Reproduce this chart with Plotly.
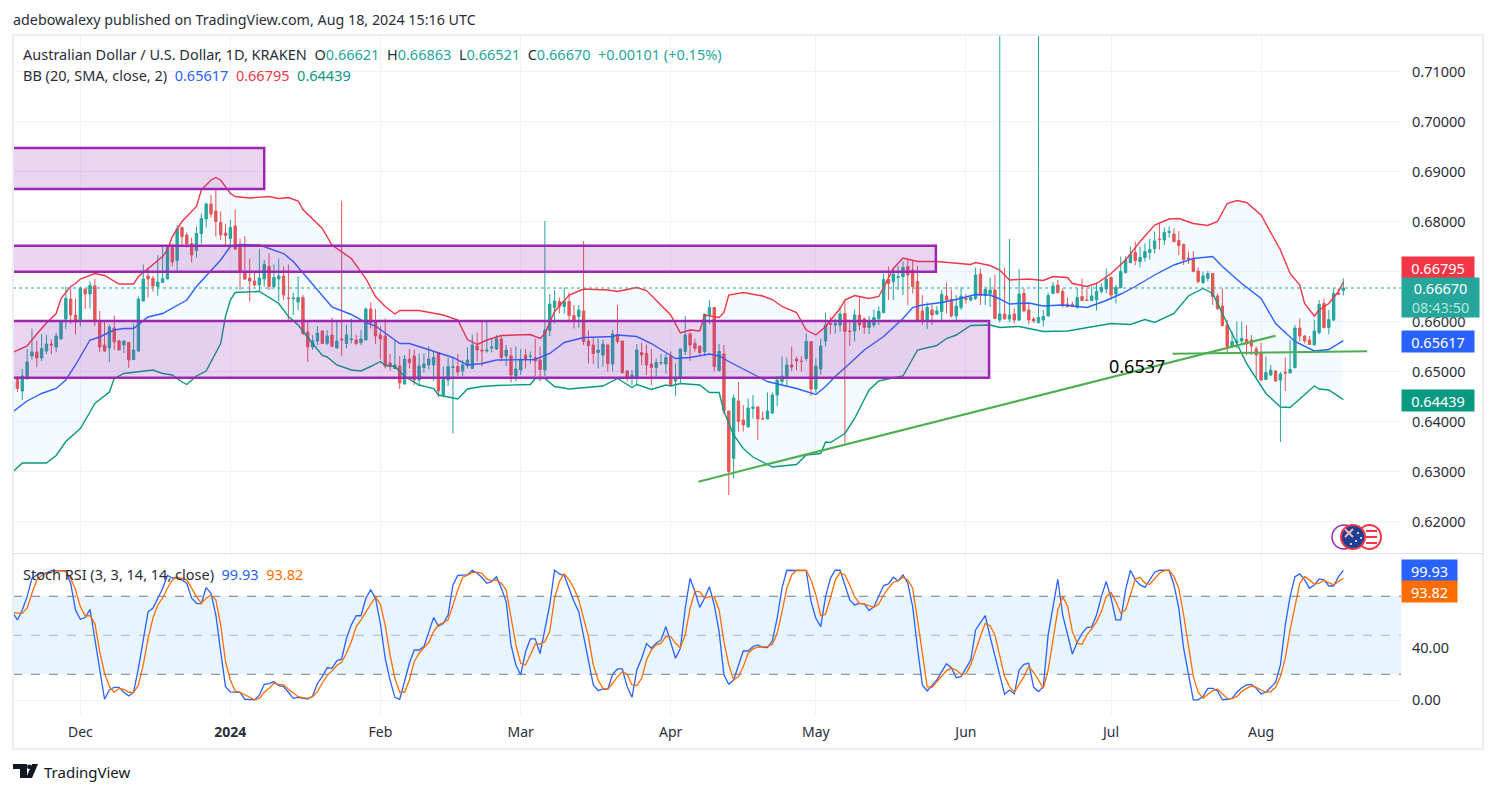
import pandas as pd
import plotly.graph_objects as go
from plotly.subplots import make_subplots

# Tageskerzen AUD/USD (O, H, L, C in 1/10000)
kerzen = [
    (6462, 6483, 6456, 6480), (6488, 6491, 6459, 6466), (6461, 6505, 6443, 6491), (6488, 6545, 6483, 6519),
    (6531, 6586, 6524, 6539), (6539, 6561, 6509, 6527), (6527, 6575, 6521, 6546), (6541, 6573, 6535, 6555),
    (6555, 6564, 6535, 6553), (6549, 6577, 6539, 6571), (6565, 6601, 6564, 6601), (6605, 6670, 6585, 6646),
    (6645, 6666, 6595, 6613), (6613, 6646, 6575, 6599), (6601, 6670, 6590, 6666), (6665, 6665, 6625, 6655),
    (6655, 6680, 6626, 6672), (6671, 6685, 6591, 6601), (6599, 6621, 6539, 6549), (6553, 6599, 6539, 6541),
    (6547, 6594, 6519, 6589), (6587, 6612, 6543, 6559), (6561, 6564, 6543, 6543), (6553, 6563, 6537, 6561),
    (6558, 6558, 6507, 6523), (6524, 6596, 6523, 6543), (6541, 6650, 6539, 6645), (6641, 6714, 6641, 6685),
    (6691, 6706, 6648, 6685), (6686, 6691, 6660, 6671), (6670, 6733, 6651, 6679), (6678, 6751, 6678, 6686),
    (6685, 6751, 6685, 6748), (6748, 6756, 6710, 6719), (6722, 6793, 6700, 6785), (6788, 6790, 6753, 6770),
    (6773, 6778, 6748, 6755), (6756, 6768, 6718, 6733), (6742, 6790, 6728, 6776), (6776, 6816, 6756, 6806),
    (6805, 6838, 6788, 6835), (6835, 6853, 6808, 6815), (6821, 6863, 6770, 6800), (6798, 6820, 6763, 6773),
    (6777, 6796, 6753, 6772), (6766, 6803, 6750, 6788), (6791, 6824, 6743, 6745), (6748, 6766, 6663, 6699),
    (6699, 6771, 6683, 6685), (6687, 6726, 6640, 6681), (6681, 6701, 6670, 6673), (6673, 6745, 6660, 6687),
    (6685, 6723, 6670, 6714), (6710, 6736, 6663, 6670), (6670, 6714, 6666, 6688), (6685, 6726, 6640, 6691),
    (6691, 6710, 6643, 6653), (6647, 6714, 6603, 6646), (6646, 6658, 6613, 6647), (6639, 6690, 6623, 6648),
    (6648, 6653, 6573, 6576), (6579, 6603, 6519, 6549), (6549, 6573, 6543, 6561), (6561, 6591, 6553, 6577),
    (6581, 6583, 6555, 6556), (6556, 6583, 6553, 6571), (6573, 6608, 6548, 6551), (6547, 6599, 6546, 6561),
    (6565, 6841, 6531, 6563), (6556, 6594, 6546, 6573), (6564, 6606, 6556, 6565), (6563, 6573, 6553, 6556),
    (6558, 6583, 6553, 6565), (6563, 6628, 6563, 6625), (6625, 6638, 6586, 6598), (6598, 6625, 6555, 6571),
    (6573, 6591, 6524, 6565), (6571, 6606, 6506, 6511), (6517, 6535, 6501, 6511), (6506, 6563, 6506, 6513),
    (6511, 6531, 6465, 6477), (6475, 6533, 6474, 6525), (6525, 6545, 6506, 6518), (6531, 6544, 6473, 6483),
    (6483, 6536, 6473, 6511), (6508, 6536, 6498, 6515), (6513, 6550, 6504, 6525), (6513, 6541, 6481, 6528),
    (6538, 6538, 6449, 6461), (6453, 6510, 6448, 6484), (6483, 6528, 6471, 6510), (6508, 6528, 6376, 6509),
    (6510, 6535, 6491, 6499), (6501, 6523, 6491, 6513), (6511, 6548, 6506, 6523), (6506, 6574, 6506, 6553),
    (6551, 6578, 6520, 6543), (6543, 6600, 6510, 6541), (6541, 6601, 6538, 6543), (6547, 6566, 6538, 6549),
    (6545, 6573, 6543, 6566), (6565, 6573, 6520, 6528), (6531, 6553, 6511, 6543), (6531, 6548, 6478, 6493),
    (6491, 6550, 6480, 6505), (6503, 6545, 6493, 6525), (6533, 6545, 6506, 6526), (6530, 6540, 6516, 6531),
    (6528, 6566, 6491, 6521), (6523, 6550, 6480, 6504), (6503, 6801, 6491, 6583), (6582, 6655, 6571, 6635),
    (6628, 6663, 6596, 6641), (6640, 6648, 6616, 6630), (6630, 6668, 6616, 6640), (6640, 6658, 6598, 6612),
    (6612, 6633, 6586, 6600), (6610, 6633, 6588, 6623), (6621, 6761, 6553, 6560), (6561, 6582, 6516, 6552),
    (6553, 6568, 6515, 6536), (6538, 6566, 6506, 6543), (6533, 6564, 6510, 6555), (6553, 6556, 6500, 6516),
    (6515, 6583, 6500, 6575), (6574, 6633, 6556, 6560), (6561, 6561, 6495, 6498), (6501, 6503, 6480, 6488),
    (6488, 6503, 6473, 6493), (6486, 6555, 6473, 6543), (6538, 6558, 6513, 6533), (6536, 6554, 6493, 6513),
    (6515, 6545, 6473, 6508), (6508, 6526, 6490, 6518), (6517, 6535, 6513, 6518), (6515, 6535, 6496, 6528),
    (6530, 6540, 6472, 6474), (6481, 6516, 6451, 6487), (6486, 6546, 6475, 6545), (6540, 6611, 6533, 6573),
    (6575, 6580, 6521, 6553), (6556, 6566, 6540, 6546), (6550, 6553, 6533, 6538), (6540, 6615, 6531, 6615),
    (6613, 6643, 6595, 6628), (6628, 6628, 6500, 6510), (6502, 6555, 6500, 6540), (6535, 6553, 6415, 6421),
    (6421, 6421, 6253, 6300), (6326, 6454, 6286, 6447), (6441, 6479, 6380, 6400), (6403, 6433, 6380, 6393),
    (6389, 6446, 6389, 6427), (6426, 6453, 6406, 6429), (6429, 6431, 6363, 6405), (6406, 6420, 6405, 6405),
    (6405, 6458, 6405, 6421), (6417, 6458, 6416, 6453), (6453, 6491, 6431, 6483), (6480, 6530, 6473, 6491),
    (6488, 6528, 6471, 6513), (6513, 6550, 6501, 6509), (6525, 6530, 6503, 6521), (6521, 6530, 6500, 6520),
    (6526, 6576, 6521, 6560), (6560, 6560, 6451, 6465), (6465, 6526, 6458, 6511), (6505, 6566, 6493, 6551),
    (6561, 6618, 6550, 6593), (6596, 6610, 6575, 6594), (6593, 6606, 6576, 6596), (6593, 6631, 6580, 6615),
    (6616, 6644, 6356, 6580), (6581, 6603, 6551, 6580), (6581, 6624, 6560, 6613), (6613, 6650, 6583, 6593),
    (6605, 6608, 6576, 6588), (6588, 6611, 6575, 6601), (6593, 6624, 6588, 6608), (6606, 6630, 6593, 6620),
    (6618, 6696, 6616, 6684), (6684, 6710, 6643, 6676), (6680, 6706, 6643, 6695), (6688, 6711, 6663, 6690),
    (6690, 6720, 6653, 6708), (6710, 6723, 6633, 6693), (6703, 6721, 6656, 6670), (6680, 6711, 6600, 6601),
    (6621, 6653, 6593, 6600), (6600, 6638, 6585, 6628), (6623, 6633, 6593, 6613), (6615, 6631, 6613, 6621),
    (6620, 6663, 6600, 6654), (6651, 6678, 6616, 6643), (6644, 6664, 6608, 6611), (6611, 6653, 6600, 6631),
    (6628, 6668, 6623, 6651), (6646, 6655, 6636, 6644), (6643, 6653, 6640, 6648), (6646, 6708, 6643, 6693),
    (6695, 6706, 6633, 6652), (6652, 6670, 6633, 6664), (6656, 6688, 6629, 6663), (6663, 6694, 6605, 6606),
    (6603, 7200, 6598, 6615), (6615, 6708, 6605, 6605), (6605, 6765, 6599, 6613), (6615, 6627, 6596, 6603),
    (6603, 6705, 6601, 6655), (6656, 6666, 6618, 6621), (6623, 6635, 6595, 6603), (6605, 6609, 6597, 6601),
    (6598, 7200, 6596, 6608), (6603, 6623, 6590, 6610), (6611, 6658, 6610, 6652), (6656, 6679, 6655, 6671),
    (6673, 6683, 6656, 6658), (6660, 6666, 6628, 6633), (6635, 6648, 6628, 6630), (6634, 6640, 6630, 6630),
    (6628, 6666, 6626, 6648), (6650, 6686, 6641, 6642), (6643, 6666, 6642, 6642), (6642, 6670, 6641, 6651),
    (6643, 6678, 6622, 6660), (6660, 6676, 6656, 6668), (6665, 6706, 6656, 6685), (6688, 6690, 6643, 6653),
    (6655, 6673, 6636, 6668), (6668, 6730, 6666, 6700), (6698, 6730, 6696, 6723), (6718, 6750, 6716, 6734),
    (6738, 6760, 6713, 6722), (6720, 6750, 6708, 6728), (6728, 6756, 6720, 6740), (6738, 6765, 6723, 6744),
    (6746, 6780, 6736, 6761), (6765, 6796, 6744, 6764), (6763, 6788, 6753, 6778), (6778, 6790, 6768, 6780),
    (6775, 6786, 6758, 6760), (6762, 6781, 6733, 6752), (6754, 6756, 6713, 6724), (6727, 6740, 6715, 6725),
    (6726, 6741, 6698, 6700), (6701, 6708, 6676, 6680), (6678, 6700, 6675, 6691), (6686, 6701, 6680, 6696),
    (6696, 6696, 6633, 6650), (6651, 6656, 6623, 6626), (6631, 6666, 6590, 6592), (6593, 6603, 6536, 6550),
    (6550, 6580, 6548, 6560), (6558, 6600, 6546, 6561), (6561, 6600, 6556, 6566), (6564, 6593, 6533, 6555),
    (6563, 6573, 6533, 6551), (6545, 6550, 6486, 6533), (6536, 6558, 6481, 6483), (6484, 6530, 6483, 6498),
    (6493, 6513, 6491, 6503), (6501, 6503, 6480, 6481), (6483, 6499, 6359, 6495), (6499, 6528, 6461, 6497),
    (6497, 6563, 6497, 6504), (6508, 6593, 6506, 6587), (6587, 6606, 6560, 6571), (6571, 6573, 6556, 6561),
    (6563, 6571, 6553, 6554), (6553, 6604, 6553, 6581), (6578, 6643, 6574, 6634), (6636, 6646, 6586, 6588),
    (6588, 6623, 6574, 6604), (6603, 6666, 6601, 6656), (6657, 6666, 6653, 6655), (6662.1, 6686.3, 6652.1, 6667.0),
]
df = pd.DataFrame(kerzen, columns=['open', 'high', 'low', 'close']) / 10000
df['datum'] = pd.date_range(start='2023-11-17', periods=len(df), freq='D')

# Bollinger-Bänder (Kerzennummer, Wert in 1/10000)
bb_oben = [
    (0, 6538), (3, 6551), (5, 6575), (7, 6597), (9, 6616), (10, 6646), (12, 6670), (13, 6676), (14, 6685), (16, 6693),
    (17, 6696), (19, 6692), (21, 6681), (22, 6675), (25, 6675), (26, 6690), (28, 6706), (31, 6730), (32, 6743),
    (33, 6770), (35, 6800), (38, 6830), (39, 6863), (41, 6883), (42, 6888), (43, 6883), (45, 6856), (46, 6850),
    (49, 6847), (53, 6850), (55, 6846), (57, 6848), (59, 6841), (60, 6824), (64, 6786), (66, 6753), (70, 6726),
    (72, 6700), (73, 6686), (75, 6650), (77, 6630), (79, 6615), (80, 6622), (84, 6622), (87, 6616), (89, 6613),
    (92, 6603), (94, 6564), (96, 6554), (98, 6563), (101, 6572), (107, 6574), (109, 6566), (110, 6576), (112, 6620),
    (115, 6653), (118, 6665), (123, 6663), (125, 6660), (129, 6668), (131, 6662), (133, 6643), (136, 6613), (138, 6577),
    (139, 6580), (140, 6583), (142, 6581), (143, 6613), (146, 6608), (147, 6618), (148, 6653), (151, 6658), (155, 6651),
    (157, 6644), (159, 6630), (162, 6618), (164, 6583), (166, 6573), (168, 6590), (171, 6626), (172, 6643), (174, 6652),
    (177, 6646), (179, 6650), (180, 6668), (182, 6706), (184, 6727), (187, 6720), (191, 6720), (198, 6714), (199, 6718),
    (202, 6712), (204, 6703), (206, 6683), (210, 6685), (213, 6682), (215, 6690), (218, 6688), (219, 6676), (222, 6670),
    (224, 6676), (227, 6696), (230, 6723), (233, 6760), (236, 6793), (239, 6805), (241, 6806), (244, 6796), (247, 6792),
    (249, 6800), (251, 6836), (253, 6842), (255, 6838), (258, 6813), (262, 6743), (264, 6696), (266, 6673), (267, 6636),
    (269, 6611), (270, 6623), (272, 6636), (274, 6660), (275, 6679.5),
]
bb_mitte = [
    (0, 6419), (3, 6441), (6, 6456), (9, 6466), (11, 6483), (13, 6513), (16, 6563), (18, 6569), (21, 6583), (23, 6586),
    (25, 6586), (28, 6609), (31, 6616), (36, 6643), (38, 6670), (41, 6703), (43, 6723), (45, 6750), (47, 6754),
    (51, 6753), (56, 6736), (58, 6720), (61, 6686), (64, 6653), (66, 6629), (70, 6614), (73, 6598), (75, 6591),
    (80, 6556), (82, 6556), (84, 6550), (87, 6540), (91, 6528), (94, 6513), (97, 6516), (100, 6523), (108, 6524),
    (111, 6536), (114, 6558), (118, 6568), (124, 6570), (125, 6573), (129, 6570), (132, 6556), (136, 6533), (137, 6526),
    (140, 6528), (144, 6535), (146, 6531), (148, 6520), (154, 6490), (156, 6480), (162, 6466), (166, 6454), (168, 6470),
    (170, 6490), (173, 6516), (176, 6543), (180, 6570), (184, 6606), (186, 6628), (188, 6633), (192, 6638), (195, 6644),
    (199, 6654), (202, 6653), (204, 6645), (206, 6635), (210, 6637), (213, 6631), (217, 6633), (222, 6628), (226, 6642),
    (229, 6655), (232, 6670), (236, 6693), (240, 6713), (244, 6726), (248, 6730), (250, 6710), (254, 6676), (258, 6646),
    (261, 6596), (265, 6560), (269, 6541), (272, 6544), (275, 6561.7),
]
bb_unten = [
    (0, 6299), (2, 6317), (7, 6317), (9, 6332), (11, 6360), (13, 6378), (14, 6386), (16, 6419), (17, 6436), (20, 6459),
    (21, 6486), (23, 6496), (26, 6499), (29, 6503), (31, 6496), (33, 6493), (35, 6479), (36, 6474), (38, 6491),
    (40, 6501), (43, 6556), (44, 6610), (45, 6643), (46, 6658), (51, 6660), (54, 6641), (55, 6636), (57, 6610),
    (59, 6593), (62, 6556), (64, 6532), (65, 6529), (67, 6513), (70, 6503), (72, 6501), (74, 6510), (76, 6520),
    (77, 6512), (79, 6510), (81, 6490), (84, 6473), (87, 6466), (88, 6453), (92, 6445), (94, 6465), (97, 6470),
    (100, 6472), (107, 6474), (108, 6486), (110, 6486), (112, 6470), (115, 6465), (119, 6468), (122, 6471), (125, 6486),
    (128, 6468), (129, 6474), (132, 6464), (135, 6473), (136, 6471), (138, 6476), (140, 6474), (142, 6473), (144, 6458),
    (146, 6458), (147, 6420), (149, 6373), (151, 6346), (153, 6329), (156, 6314), (157, 6309), (162, 6314), (164, 6333),
    (167, 6336), (168, 6359), (169, 6358), (172, 6376), (174, 6406), (177, 6463), (179, 6481), (184, 6491), (187, 6543),
    (191, 6552), (193, 6566), (195, 6573), (198, 6592), (202, 6593), (204, 6588), (208, 6590), (213, 6580), (218, 6581),
    (227, 6596), (231, 6594), (234, 6604), (236, 6598), (240, 6616), (243, 6651), (246, 6666), (248, 6656), (250, 6616),
    (252, 6576), (255, 6516), (259, 6456), (262, 6429), (264, 6428), (266, 6446), (269, 6471), (270, 6465), (272, 6463),
    (275, 6443.9),
]

# Stoch RSI, eine Zahl je Kerze
stoch_k = [
    67.7, 61.8, 69.5, 79.7, 93.8, 96.4, 97.7, 98, 99.7, 99.7, 99.7, 99.5, 90, 69.5, 62.3, 63.6, 70, 46.4, 24.6, 0.8,
    8, 10, 10, 6.2, 3.3, 6.2, 24.6, 47.7, 68.2, 70.8, 78.5, 86, 96, 94, 94.6, 92.6, 90, 78.5, 74.6, 74.4,
    86.7, 82.3, 65.6, 37.4, 10.5, 6.4, 6.4, 6.2, 0.8, 0.5, 0.3, 4, 12.3, 12.8, 14.4, 11.3, 10.5, 6.2, 1.5, 2.3,
    1.5, 1, 3.3, 13, 18.2, 25, 24.6, 30.3, 31.8, 47.7, 58, 65, 65, 78.5, 84.9, 78.5, 59, 32.3, 15.6, 2.3,
    0.8, 15.6, 28.5, 38.7, 38.7, 41.3, 52.8, 63.6, 57, 59, 65.6, 88.7, 96, 96.4, 96.4, 100, 97.7, 94.4, 90, 91.3,
    95, 86.2, 75.9, 42.6, 27.2, 19.5, 37.4, 47.2, 47.2, 35.9, 54.1, 73.3, 100, 97.2, 95.9, 86.2, 75.9, 68.2, 50.3, 32.3,
    11.8, 7.4, 8.7, 8.5, 20, 24.1, 24.1, 10.5, 2.3, 23.3, 32.3, 43.6, 40, 43.8, 46.4, 56.7, 43.8, 32.3, 40, 70.8,
    93.8, 83.6, 71.5, 78.5, 87.4, 73.3, 52.8, 19.5, 12.3, 15.6, 26.7, 37.9, 37.9, 41.3, 42.6, 40.8, 40.5, 45.6, 63.1, 86.2,
    100, 100, 99.7, 100, 99.7, 75.9, 63.1, 56.7, 79.7, 93.8, 100, 100, 88.7, 77.2, 73.3, 74.6, 74.1, 69, 72, 79.7,
    88.2, 89.5, 94.6, 91.8, 96.4, 90, 72, 40, 11.8, 7.2, 11.8, 15.6, 22, 28.2, 25.1, 17.4, 18.2, 24.6, 31, 54.1,
    59.2, 65.1, 49, 33.6, 18.2, 4.6, 7.9, 4.9, 23.3, 27.7, 28.5, 10, 6.7, 10.5, 50.3, 73.3, 93.1, 65.6, 50.3, 35.6,
    44.6, 51.5, 55.9, 56.4, 65.6, 79.7, 91.3, 78.5, 61.8, 61.8, 84.9, 100, 92.6, 88.7, 86.9, 92.6, 98.5, 100, 100, 100,
    88.7, 70.8, 40, 20.8, 0.3, 0.3, 2.8, 9.2, 9.2, 7.2, 0.3, 0.8, 1.5, 6.2, 9.7, 11.8, 12.3, 9.2, 4.9, 6.2,
    9.7, 13.8, 27.2, 57.9, 79.7, 95.1, 97.2, 92.6, 86.2, 88.7, 93.3, 92.6, 87.9, 87.9, 95.1, 99.93,
]
stoch_d = [
    67.7, 67, 67, 70.8, 82.3, 92.6, 96, 97.7, 98.5, 99.7, 99.7, 99, 93.8, 85, 72, 65, 65, 59, 37.4, 20.8,
    10.5, 6.2, 9.2, 8.5, 6.2, 5.9, 11.8, 27.2, 47.7, 63.1, 73.3, 78.5, 86.2, 92.6, 94.6, 93.3, 92.6, 86.2, 79.7, 74.6,
    78.5, 81, 77.2, 57.9, 29.7, 15.6, 7.2, 6.2, 4.1, 2, 0.3, 1.5, 6.2, 9.2, 13.1, 12.3, 11.8, 8.5, 5.4, 2.8,
    2, 1.5, 2.8, 6.7, 13.1, 19, 22.6, 26.7, 29.2, 36.2, 45.1, 56.7, 61.8, 67.7, 73.3, 79.7, 73.8, 57.9, 34.9, 16.9,
    6.2, 6.2, 15.6, 29.7, 36.2, 40, 44.6, 52.8, 57.9, 59.7, 61.8, 73.3, 84.9, 94.4, 96.4, 98.2, 98.5, 97.7, 93.1, 91.8,
    92.6, 90, 84.9, 63.1, 42.6, 28.5, 27.2, 34.9, 43.3, 43.3, 45.1, 52.8, 78.5, 91.3, 97.2, 92.6, 86.2, 77.2, 63.1, 49,
    27.2, 15.6, 9.2, 8.5, 13.1, 18.2, 22, 20, 11.8, 11.3, 16.9, 31, 38.7, 42.6, 43.8, 49, 49, 43.8, 40.5, 50.3,
    70.8, 83.6, 83.6, 78.5, 79.7, 79.7, 69.5, 45.1, 27.2, 15.6, 18.2, 25.9, 36.2, 39.5, 40.8, 41.3, 41.3, 43.1, 51.5, 68.2,
    86.2, 96.4, 100, 100, 100, 92.6, 81, 65.1, 66.2, 78.5, 92.6, 98.2, 96.4, 88.7, 79.7, 74.6, 74.1, 72.6, 71.5, 74.1,
    81, 86.2, 90.8, 91.8, 94.6, 92.6, 86.2, 61.8, 34.9, 10.5, 10, 14.4, 18.2, 22.8, 24.6, 23.3, 20, 20.3, 27.2, 38.7,
    49, 59.2, 57.4, 50.3, 34.9, 18.2, 10.5, 6.2, 12.3, 18.2, 25.9, 21.5, 15.6, 9.2, 23.3, 47.7, 69.5, 79.7, 72.8, 52.8,
    43.8, 43.1, 50.3, 54.9, 60.5, 68.2, 79.7, 82.8, 75.9, 66.9, 69.5, 81, 93.3, 94.4, 90, 89.2, 93.8, 97.7, 99.7, 100,
    95.1, 86.2, 65.6, 40, 18.2, 6.2, 1.5, 4.6, 7.4, 8.5, 4.6, 1.5, 1.3, 2.8, 6.7, 9.2, 11, 10, 7.9, 6.2,
    6.7, 10, 18.2, 32.3, 54.1, 73.3, 90, 95.1, 92.6, 89.2, 90, 92.1, 90.5, 88.7, 91.3, 93.82,
]

# Seite in Pixeln
B = 1496
H = 793

fig = make_subplots(rows=2, cols=1, shared_xaxes=True)

# Kerzen
fig.add_trace(go.Candlestick(
    x=df['datum'], open=df['open'], high=df['high'], low=df['low'], close=df['close'],
    increasing=dict(line=dict(color='#26a69a', width=1), fillcolor='#26a69a'),
    decreasing=dict(line=dict(color='#EF5350', width=1), fillcolor='#EF5350'),
    whiskerwidth=0,
    showlegend=False
), row=1, col=1)

# Bollinger-Bänder mit Füllung
fig.add_trace(go.Scatter(
    x=[df['datum'][i] for i, w in bb_oben], y=[w / 10000 for i, w in bb_oben],
    mode='lines', line=dict(color='#F23645', width=1.4), showlegend=False
), row=1, col=1)
fig.add_trace(go.Scatter(
    x=[df['datum'][i] for i, w in bb_unten], y=[w / 10000 for i, w in bb_unten],
    mode='lines', line=dict(color='#089981', width=1.4),
    fill='tonexty', fillcolor='rgba(33,150,243,0.05)', showlegend=False
), row=1, col=1)
fig.add_trace(go.Scatter(
    x=[df['datum'][i] for i, w in bb_mitte], y=[w / 10000 for i, w in bb_mitte],
    mode='lines', line=dict(color='#2962FF', width=1.4), showlegend=False
), row=1, col=1)

# Stoch RSI
fig.add_trace(go.Scatter(x=df['datum'], y=stoch_k, mode='lines', line=dict(color='#2962FF', width=1.3), showlegend=False), row=2, col=1)
fig.add_trace(go.Scatter(x=df['datum'], y=stoch_d, mode='lines', line=dict(color='#FF6D00', width=1.3), showlegend=False), row=2, col=1)

# Band und gestrichelte Linien im unteren Feld
fig.add_hrect(y0=20, y1=80, fillcolor='rgba(33,150,243,0.1)', line_width=0, layer='below', row=2, col=1)
fig.add_hline(y=80, line=dict(color='#787B86', width=1, dash='dash'), row=2, col=1)
fig.add_hline(y=50, line=dict(color='#787B86', width=1, dash='dash'), opacity=0.5, row=2, col=1)
fig.add_hline(y=20, line=dict(color='#787B86', width=1, dash='dash'), row=2, col=1)

# Violette Zonen
for x1, y0, y1 in [('2024-01-08', 0.6865, 0.6947), ('2024-05-25 19:00', 0.66996, 0.67516), ('2024-06-05 19:00', 0.64876, 0.6601)]:
    fig.add_shape(type='rect', x0='2023-10-01', x1=x1, y0=y0, y1=y1,
                  line=dict(color='#9C27B0', width=2.5), fillcolor='rgba(156,39,176,0.2)', row=1, col=1)

# Grüne Trendlinien
fig.add_shape(type='line', x0='2024-04-06 17:00', y0=0.62796, x1='2024-08-04', y1=0.65716,
              line=dict(color='#4CAF50', width=2), row=1, col=1)
fig.add_shape(type='line', x0='2024-07-13 17:00', y0=0.65356, x1='2024-08-22 22:00', y1=0.65404,
              line=dict(color='#4CAF50', width=2), row=1, col=1)

# Letzter Kurs
fig.add_hline(y=0.6667, line=dict(color='#26a69a', width=1, dash='dot'), row=1, col=1)

# Rahmen und Trennlinie
fig.add_shape(type='rect', xref='paper', yref='paper', x0=13 / B, x1=1483 / B, y0=1 - 749 / H, y1=1 - 35 / H,
              line=dict(color='#eceef5', width=2))
fig.add_shape(type='line', xref='paper', yref='paper', x0=13 / B, x1=1483 / B, y0=1 - 553.5 / H, y1=1 - 553.5 / H,
              line=dict(color='#e0e3eb', width=1))

# Flaggen-Symbol
fig.add_shape(type='circle', xref='paper', yref='paper', x0=1332 / B, x1=1356 / B, y0=1 - 549 / H, y1=1 - 525 / H,
              line=dict(color='#9C27B0', width=1.5), fillcolor='white')
fig.add_shape(type='circle', xref='paper', yref='paper', x0=1358 / B, x1=1381 / B, y0=1 - 549 / H, y1=1 - 525 / H,
              line=dict(color='#F23645', width=2), fillcolor='white')
for s in [531, 537, 543]:  # Streifen
    fig.add_shape(type='line', xref='paper', yref='paper', x0=1366 / B, x1=1377 / B, y0=1 - s / H, y1=1 - s / H,
                  line=dict(color='#F23645', width=2))
fig.add_shape(type='circle', xref='paper', yref='paper', x0=1341 / B, x1=1365 / B, y0=1 - 549 / H, y1=1 - 525 / H,
              line=dict(color='#F23645', width=2), fillcolor='#1c3f94')
fig.add_shape(type='line', xref='paper', yref='paper', x0=1345 / B, x1=1353 / B, y0=1 - 529 / H, y1=1 - 537 / H,
              line=dict(color='#f6b5b5', width=2))
fig.add_shape(type='line', xref='paper', yref='paper', x0=1345 / B, x1=1353 / B, y0=1 - 537 / H, y1=1 - 529 / H,
              line=dict(color='#f6b5b5', width=2))
for sx, sy in [(1358, 533), (1361, 538), (1356, 541), (1351, 544)]:  # Sterne
    fig.add_shape(type='circle', xref='paper', yref='paper', x0=(sx - 1) / B, x1=(sx + 1) / B, y0=1 - (sy + 1) / H, y1=1 - (sy - 1) / H,
                  line_width=0, fillcolor='white')

# Logo
fig.add_shape(type='path', xref='paper', yref='paper', fillcolor='#131722', line_width=0,
              path=f'M {13 / B} {1 - 764 / H} L {27 / B} {1 - 764 / H} L {27 / B} {1 - 778 / H} L {20 / B} {1 - 778 / H} L {20 / B} {1 - 769 / H} L {13 / B} {1 - 769 / H} Z')
fig.add_shape(type='path', xref='paper', yref='paper', fillcolor='#131722', line_width=0,
              path=f'M {32 / B} {1 - 764 / H} L {38 / B} {1 - 764 / H} L {32 / B} {1 - 778 / H} L {26 / B} {1 - 778 / H} Z')
fig.add_shape(type='circle', xref='paper', yref='paper', fillcolor='#131722', line_width=0,
              x0=27 / B, x1=31.5 / B, y0=1 - 769 / H, y1=1 - 764.5 / H)

schrift = 'Noto Sans'
# Texte oben und unten
texte = [
    (11, 19, 'adebowalexy published on TradingView.com, Aug 18, 2024 15:16 UTC', '#2a2e39', 14.3),
    (21, 54, 'Australian Dollar / U.S. Dollar, 1D, KRAKEN  O<span style="color:#26a69a">0.66621</span>  '
             'H<span style="color:#26a69a">0.66863</span>  L<span style="color:#26a69a">0.66521</span>  '
             'C<span style="color:#26a69a">0.66670</span>  <span style="color:#26a69a">+0.00101 (+0.15%)</span>', '#2a2e39', 14.5),
    (21, 75, 'BB (20, SMA, close, 2)  <span style="color:#2962FF">0.65617</span>  '
             '<span style="color:#F23645">0.66795</span>  <span style="color:#089981">0.64439</span>', '#2a2e39', 14.5),
    (21, 574, 'Stoch RSI (3, 3, 14, 14, close)  <span style="color:#2962FF">99.93</span>  '
              '<span style="color:#FF6D00">93.82</span>', '#2a2e39', 14.5),
    (42, 772, 'TradingView', '#131722', 15),
    (1107, 366, '0.6537', '#000000', 18),
]
for x, y, t, farbe, groesse in texte:
    fig.add_annotation(xref='paper', yref='paper', x=x / B, y=1 - y / H, text=t, showarrow=False,
                       xanchor='left', yanchor='middle', font=dict(family=schrift, size=groesse, color=farbe))

# Kursschilder rechts
schilder = [
    (267.5, 72, 21, '0.66795', '#F23645'),
    (297.5, 77, 39, '0.66670<br><span style="color:#b5e3de">08:43:50</span>', '#26a69a'),
    (341.5, 72, 21, '0.65617', '#2962FF'),
    (400.5, 72, 21, '0.64439', '#089981'),
    (570.5, 55, 21, '99.93', '#2962FF'),
    (591.5, 55, 21, '93.82', '#FF6D00'),
]
for y, breite, hoehe, t, farbe in schilder:
    fig.add_annotation(xref='paper', yref='paper', x=1401 / B, y=1 - y / H, text=t, showarrow=False,
                       xanchor='left', yanchor='middle', width=breite, height=hoehe, align='center', valign='middle',
                       bgcolor=farbe, borderpad=0, font=dict(family=schrift, size=14.5, color='white'))

# Achsen
monate = ['2023-12-01', '2024-01-01', '2024-02-01', '2024-03-01', '2024-04-01', '2024-05-01', '2024-06-01', '2024-07-01', '2024-08-01']
namen = ['Dec', '<b>2024</b>', 'Feb', 'Mar', 'Apr', 'May', 'Jun', 'Jul', 'Aug']
fig.update_xaxes(range=['2023-11-17 02:00', '2024-08-29 22:00'], domain=[13 / B, 1401 / B],
                 tickmode='array', tickvals=monate, ticktext=namen, showgrid=True, gridcolor='#f0f3fa', gridwidth=1,
                 zeroline=False, showline=False, ticks='', rangeslider_visible=False, ticklabelstandoff=7,
                 tickfont=dict(family=schrift, size=14, color='#2a2e39'))
fig.update_yaxes(side='right', showgrid=True, gridcolor='#f0f3fa', zeroline=False, showline=False, ticks='',
                 ticklabelstandoff=10, tickfont=dict(family=schrift, size=14.5, color='#2a2e39'))

# Layout anpassen
fig.update_layout(
    width=B,
    height=H,
    margin=dict(l=0, r=0, t=0, b=0),
    paper_bgcolor='white',
    plot_bgcolor='white',
    showlegend=False,
    yaxis=dict(domain=[1 - 553 / H, 1 - 35 / H], range=[0.6137, 0.7173], tickmode='array',
               tickvals=[0.62, 0.63, 0.64, 0.65, 0.66, 0.67, 0.68, 0.69, 0.70, 0.71],
               ticktext=['0.62000', '0.63000', '0.64000', '0.65000', '0.66000', '', '0.68000', '0.69000', '0.70000', '0.71000']),
    yaxis2=dict(domain=[1 - 715 / H, 1 - 554 / H], range=[-11.3, 112.5], tickmode='array',
                tickvals=[0, 40, 80], ticktext=['0.00', '40.00', '']),
)

fig.write_html("out.html", config=dict(displayModeBar=False), post_script="document.body.style.margin='0';")
